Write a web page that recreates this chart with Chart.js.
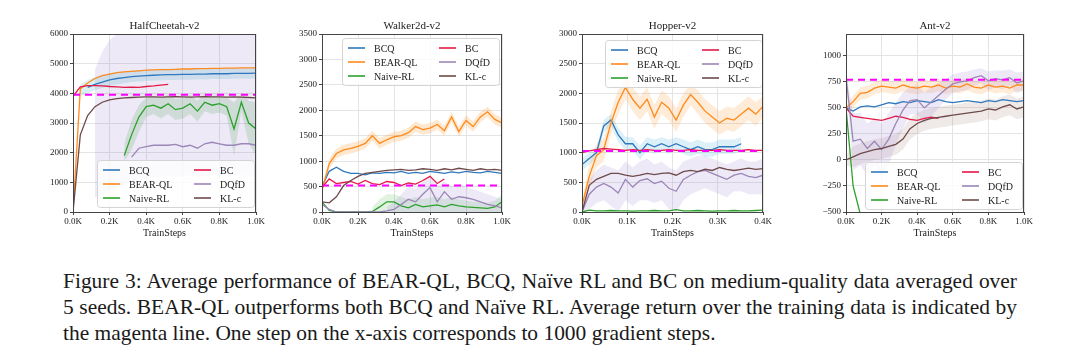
<!DOCTYPE html>
<html>
<head>
<meta charset="utf-8">
<title>Figure 3</title>
<script src="https://cdn.jsdelivr.net/npm/chart.js@4.4.1/dist/chart.umd.min.js"></script>
<style>
  body { margin: 0; width: 1080px; height: 355px; background: #fff; position: relative; overflow: hidden; }
  canvas { position: absolute; top: 0; }
  .caption { position: absolute; left: 63px; top: 268px; font-family: "Liberation Serif", "DejaVu Serif", "Noto Serif", serif; font-size: 22px; line-height: 26px; color: #1a1a1a; }
  .caption div { width: 954px; white-space: nowrap; }
  .caption .full { text-align: justify; text-align-last: justify; }
</style>
</head>
<body>
<canvas id="hc" width="270" height="245" style="left:0px"></canvas>
<canvas id="wk" width="270" height="245" style="left:270px"></canvas>
<canvas id="hp" width="260" height="245" style="left:540px"></canvas>
<canvas id="ant" width="280" height="245" style="left:800px"></canvas>
<div class="caption">
  <div class="full"><span>Figure 3: Average performance of BEAR-QL, BCQ, Naïve RL and BC on medium-quality data averaged over</span></div>
  <div class="full"><span>5 seeds. BEAR-QL outperforms both BCQ and Naïve RL. Average return over the training data is indicated by</span></div>
  <div><span>the magenta line. One step on the x-axis corresponds to 1000 gradient steps.</span></div>
</div>
<script>
// legend order follows matplotlib's column-first fill
const seriesNames = ['BCQ', 'BEAR-QL', 'Naive-RL', 'BC', 'DQfD', 'KL-c'];
const seriesColors = ['#2f78bd', '#ff8a1c', '#2ca02c', '#e31a47', '#9b86b8', '#6e4a4a'];
const serifFamily = '"Liberation Serif", "DejaVu Serif", "Noto Serif", serif';

// tick labels (values) for each panel
const xTicksLong = [0, 200, 400, 600, 800, 1000];
const xTicksHopper = [0, 100, 200, 300, 400];
const hcYTicks = [0, 1000, 2000, 3000, 4000, 5000, 6000];
const wkYTicks = [0, 500, 1000, 1500, 2000, 2500, 3000, 3500];
const hpYTicks = [0, 500, 1000, 1500, 2000, 2500, 3000];
const antYTicks = [-500, -250, 0, 250, 500, 750, 1000];

// HalfCheetah-v2 (x in train steps, every 40)
const hcSteps = [0, 40, 80, 120, 160, 200, 240, 280, 320, 360, 400, 440, 480, 520, 560, 600, 640, 680, 720, 760, 800, 840, 880, 920, 960, 1000];
const hcBCQ = [null, null, 4200, 4300, 4380, 4450, 4500, 4530, 4560, 4580, 4600, 4610, 4620, 4630, 4630, 4640, 4640, 4650, 4650, 4660, 4660, 4660, 4670, 4670, 4670, 4680];
const hcBEAR = [0, 4150, 4350, 4500, 4600, 4650, 4700, 4720, 4740, 4760, 4780, 4790, 4800, 4800, 4810, 4820, 4820, 4830, 4830, 4840, 4840, 4850, 4850, 4860, 4860, 4860];
const hcNaive = [null, null, null, null, null, null, null, 1900, 2600, 3200, 3550, 3600, 3500, 3650, 3450, 3500, 3650, 3400, 3700, 3600, 3650, 3550, 2800, 3700, 3000, 2800];
const hcBC = [3900, 4220, 4260, 4260, 4250, 4230, 4220, 4200, 4210, 4200, 4230, 4250, 4280, 4300, null, null, null, null, null, null, null, null, null, null, null, null];
const hcDQfD = [null, null, null, null, null, null, null, null, 1850, 2150, 2200, 2250, 2250, 2250, 2280, 2200, 2250, 2150, 2300, 2350, 2300, 2250, 2250, 2300, 2300, 2250];
const hcKLc = [0, 2600, 3250, 3550, 3700, 3780, 3820, 3850, 3860, 3870, 3880, 3880, 3870, 3880, 3890, 3880, 3870, 3880, 3890, 3880, 3880, 3870, 3880, 3870, 3860, 3850];
const hcAvgReturn = 3950;
const hcDQfDHigh = [null, null, null, 4800, 5400, 5800, 6000, 6000, 6000, 6000, 6000, 6000, 6000, 6000, 6000, 6000, 6000, 6000, 6000, 6000, 6000, 6000, 6000, 6000, 6000, 6000];
const hcDQfDLow = [null, null, null, 500, 600, 700, 800, 900, 1000, 1100, 1150, 1200, 1200, 1250, 1200, 1200, 1250, 1200, 1200, 1250, 1250, 1200, 1200, 1250, 1200, 1200];
const hcNaiveHigh = [null, null, null, null, null, null, null, 2300, 3100, 3600, 3850, 3900, 3850, 3950, 3800, 3850, 3950, 3750, 4000, 3900, 3950, 3850, 3700, 4000, 3750, 3700];
const hcNaiveLow = [null, null, null, null, null, null, null, 1700, 2100, 2700, 3200, 3300, 3150, 3300, 3100, 3150, 3300, 3050, 3400, 3300, 3350, 3250, 1900, 3400, 2300, 1900];
const hcBCQHigh = [null, 4300, 4450, 4550, 4620, 4680, 4720, 4740, 4760, 4780, 4790, 4800, 4800, 4810, 4810, 4820, 4820, 4830, 4830, 4840, 4840, 4840, 4850, 4850, 4850, 4860];
const hcBCQLow = [null, 3900, 4000, 4100, 4180, 4250, 4300, 4340, 4380, 4400, 4420, 4430, 4440, 4450, 4450, 4460, 4460, 4470, 4470, 4480, 4480, 4480, 4490, 4490, 4490, 4500];

// Walker2d-v2
const wkSteps = [0, 40, 80, 120, 160, 200, 240, 280, 320, 360, 400, 440, 480, 520, 560, 600, 640, 680, 720, 760, 800, 840, 880, 920, 960, 1000];
const wkBCQ = [500, 800, 880, 800, 760, 760, 730, 770, 760, 780, 770, 800, 760, 780, 760, 800, 780, 760, 790, 770, 800, 780, 770, 800, 780, 760];
const wkBEAR = [430, 950, 1150, 1220, 1250, 1290, 1350, 1500, 1350, 1420, 1480, 1500, 1560, 1680, 1620, 1650, 1720, 1600, 1870, 1580, 1800, 1680, 1870, 1970, 1820, 1750];
const wkNaive = [200, 30, 0, 0, 0, 0, 0, 10, 100, 200, 200, 120, 80, 150, 100, 120, 140, 100, 150, 120, 100, 90, 80, 70, 100, 200];
const wkBC = [480, 650, 560, 580, 600, 550, 620, 560, 540, 600, 580, 520, 570, 550, 620, 700, 560, 650, null, null, null, null, null, null, null, null];
const wkDQfD = [150, 50, 0, 0, 0, 0, 0, 0, 0, 20, 50, 150, 250, 200, 350, 480, 200, 400, 250, 300, 280, 250, 200, 150, 120, 80];
const wkKLc = [200, 180, 300, 520, 620, 700, 760, 780, 800, 820, 830, 840, 820, 830, 850, 840, 820, 850, 830, 860, 840, 820, 850, 830, 840, 820];
const wkAvgReturn = 520;
const wkBEARHigh = [500, 1050, 1250, 1320, 1350, 1390, 1450, 1600, 1450, 1520, 1580, 1600, 1660, 1780, 1720, 1750, 1820, 1700, 1970, 1680, 1900, 1780, 1970, 2070, 1920, 1850];
const wkBEARLow = [360, 850, 1050, 1120, 1150, 1190, 1250, 1400, 1250, 1320, 1380, 1400, 1460, 1580, 1520, 1550, 1620, 1500, 1770, 1480, 1700, 1580, 1770, 1870, 1720, 1650];
const wkDQfDHigh = [null, null, null, null, null, null, null, null, null, 100, 200, 350, 500, 450, 600, 700, 500, 600, 500, 550, 500, 450, 400, 350, 300, 250];
const wkDQfDLow = [null, null, null, null, null, null, null, null, null, 0, 0, 0, 0, 0, 0, 0, 0, 0, 0, 0, 0, 0, 0, 0, 0, 0];
const wkNaiveHigh = [null, null, null, null, null, null, null, 100, 250, 350, 350, 300, 250, 300, 250, 280, 300, 250, 300, 250, 220, 200, 200, 180, 220, 350];
const wkNaiveLow = [null, null, null, null, null, null, null, 0, 0, 0, 0, 0, 0, 0, 0, 0, 0, 0, 0, 0, 0, 0, 0, 0, 0, 0];

// Hopper-v2 (every 16 steps)
const hpSteps = [0, 16, 32, 48, 64, 80, 96, 112, 128, 144, 160, 176, 192, 208, 224, 240, 256, 272, 288, 304, 320, 336, 352, 368, 384, 400];
const hpBCQ = [800, 900, 1000, 1450, 1550, 1300, 1150, 1150, 1000, 1150, 1100, 1150, 1100, 1150, 1100, 1050, 1100, 1050, 1050, 1100, 1100, 1100, 1150, null, null, null];
const hpBEAR = [100, 600, 950, 1050, 1500, 1850, 2100, 1900, 1750, 1900, 1600, 1850, 1750, 1550, 1800, 1980, 1850, 1700, 1600, 1500, 1580, 1550, 1650, 1750, 1650, 1780];
const hpNaive = [0, 30, 20, 20, 25, 20, 20, 15, 20, 20, 25, 20, 20, 40, 20, 20, 25, 20, 15, 20, 20, 25, 20, 20, 25, 30];
const hpBC = [1000, 1030, 1050, 1070, 1060, 1050, 1040, 1050, 1040, 1050, 1040, 1040, 1050, 1040, 1040, 1050, 1040, 1040, 1040, 1050, 1040, 1040, 1040, 1050, 1040, 1040];
const hpDQfD = [0, 300, 420, 480, 420, 320, 550, 420, 530, 560, 480, 520, 400, 350, 550, 620, 680, 700, 650, 600, 550, 620, 650, 600, 580, 620];
const hpKLc = [0, 450, 550, 600, 650, 650, 620, 600, 620, 650, 630, 650, 660, 620, 680, 700, 680, 720, 700, 750, 720, 700, 720, 740, 720, 730];
const hpAvgReturn = 1030;
const hpDQfDHigh = [0, 550, 700, 800, 750, 700, 850, 750, 850, 900, 800, 850, 750, 700, 850, 900, 950, 950, 900, 850, 800, 850, 900, 850, 850, 900];
const hpDQfDLow = [0, 50, 150, 200, 100, 0, 200, 100, 200, 200, 150, 200, 50, 0, 200, 300, 350, 400, 350, 300, 250, 350, 350, 300, 300, 300];
const hpBEARHigh = [200, 800, 1150, 1250, 1700, 2050, 2250, 2100, 1950, 2100, 1800, 2050, 1950, 1750, 2000, 2150, 2050, 1900, 1800, 1700, 1780, 1750, 1850, 1950, 1850, 1950];
const hpBEARLow = [0, 400, 750, 850, 1300, 1650, 1900, 1700, 1550, 1700, 1400, 1650, 1550, 1350, 1600, 1800, 1650, 1500, 1400, 1300, 1380, 1350, 1450, 1550, 1450, 1600];
const hpBCQHigh = [900, 1000, 1100, 1550, 1650, 1420, 1270, 1260, 1120, 1260, 1220, 1260, 1220, 1260, 1220, 1170, 1220, 1170, 1170, 1220, 1220, 1220, 1260, null, null, null];
const hpBCQLow = [700, 800, 900, 1350, 1450, 1180, 1030, 1040, 880, 1040, 980, 1040, 980, 1040, 980, 930, 980, 930, 930, 980, 980, 980, 1040, null, null, null];

// Ant-v2
const antSteps = [0, 40, 80, 120, 160, 200, 240, 280, 320, 360, 400, 440, 480, 520, 560, 600, 640, 680, 720, 760, 800, 840, 880, 920, 960, 1000];
const antBCQ = [500, 470, 510, 520, 510, 530, 550, 540, 560, 550, 570, 560, 550, 580, 560, 550, 560, 570, 560, 550, 570, 560, 580, 570, 560, 570];
const antBEAR = [500, 560, 640, 650, 690, 710, 700, 690, 720, 700, 690, 710, 700, 720, 690, 710, 700, 730, 700, 690, 720, 700, 710, 690, 720, 720];
const antNaive = [500, -250, -520, -600, -650, -700, -700, -750, -750, -800, -800, -800, -800, -800, -800, -800, -800, -800, -800, -800, -800, -800, -800, -800, -800, -800];
const antBC = [500, 420, 410, 400, 390, 380, 400, 420, 410, 390, 380, 400, 410, 400, null, null, null, null, null, null, null, null, null, null, null, null];
const antDQfD = [800, 180, 200, 110, 180, 100, 200, 350, 480, 570, 580, 500, 560, 620, 680, 730, 750, 760, 790, 810, 760, 780, 770, 790, 740, 760];
const antKLc = [0, 30, 60, 80, 100, 110, 130, 150, 200, 300, 350, 380, 400, 410, 420, 430, 440, 450, 460, 470, 490, 480, 510, 530, 490, 510];
const antAvgReturn = 770;
const antDQfDHigh = [850, 450, 450, 350, 400, 350, 450, 550, 650, 700, 720, 650, 700, 740, 780, 820, 840, 850, 870, 880, 850, 860, 860, 870, 840, 850];
const antDQfDLow = [750, -100, -50, -150, -50, -150, -50, 150, 300, 440, 440, 350, 420, 500, 580, 640, 660, 670, 710, 740, 670, 700, 680, 710, 640, 670];
const antKLcHigh = [50, 130, 160, 180, 200, 210, 230, 250, 300, 400, 450, 480, 500, 510, 520, 530, 540, 550, 560, 570, 590, 580, 610, 630, 590, 610];
const antKLcLow = [-50, -70, -40, -20, 0, 10, 30, 50, 100, 200, 250, 280, 300, 310, 320, 330, 340, 350, 360, 370, 390, 380, 410, 430, 390, 410];
const antBEARHigh = [520, 620, 700, 710, 750, 770, 760, 750, 780, 760, 750, 770, 760, 780, 750, 770, 760, 790, 760, 750, 780, 760, 770, 750, 780, 780];
const antBEARLow = [480, 500, 580, 590, 630, 650, 640, 630, 660, 640, 630, 650, 640, 660, 630, 650, 640, 670, 640, 630, 660, 640, 650, 630, 660, 660];

function pts(steps, ys) {
    return steps.map((x, i) => ({ x: x, y: ys[i] }));
}

// plot frame, title and inset legend drawn like matplotlib
const figurePlugin = {
    id: 'figureDecor',
    afterDatasetsDraw(chart, args, opts) {
        const { ctx, chartArea } = chart;
        const x0 = chartArea.left + opts.legendX;
        const y0 = chartArea.top + opts.legendY;
        ctx.save();
        ctx.fillStyle = 'rgba(255,255,255,0.8)';
        ctx.strokeStyle = '#d4d4d4';
        ctx.lineWidth = 1;
        ctx.beginPath();
        ctx.roundRect(x0 + 0.5, y0 + 0.5, 157, 47, 3);
        ctx.fill();
        ctx.stroke();
        ctx.font = '10px ' + serifFamily;
        ctx.textBaseline = 'middle';
        ctx.fillStyle = '#222';
        seriesNames.forEach((name, i) => {
            const col = Math.floor(i / 3);
            const row = i % 3;
            const lx = x0 + (col === 0 ? 6 : 97);
            const ly = y0 + 10 + row * 14;
            ctx.strokeStyle = seriesColors[i];
            ctx.lineWidth = 1.6;
            ctx.beginPath();
            ctx.moveTo(lx, ly);
            ctx.lineTo(lx + 17, ly);
            ctx.stroke();
            ctx.fillText(name, lx + 26, ly + 1);
        });
        ctx.restore();
    },
    afterDraw(chart, args, opts) {
        const { ctx, chartArea } = chart;
        ctx.save();
        ctx.strokeStyle = '#444';
        ctx.lineWidth = 1;
        ctx.strokeRect(chartArea.left + 0.5, chartArea.top + 0.5, chartArea.width - 1, chartArea.height);
        ctx.font = '11px ' + serifFamily;
        ctx.fillStyle = '#222';
        ctx.textAlign = 'center';
        ctx.textBaseline = 'middle';
        ctx.fillText(opts.title, (chartArea.left + chartArea.right) / 2, 26);
        ctx.restore();
    }
};

function buildPanel(p) {
    const datasets = [];
    p.bands.forEach(b => {
        datasets.push({ data: pts(p.steps, b.low), borderWidth: 0, pointRadius: 0, fill: false, order: 10 });
        datasets.push({ data: pts(p.steps, b.high), borderWidth: 0, pointRadius: 0, fill: '-1', backgroundColor: b.color, order: 10 });
    });
    p.series.forEach((ys, i) => {
        datasets.push({
            label: seriesNames[i],
            data: pts(p.steps, ys),
            borderColor: seriesColors[i],
            borderWidth: 1.3,
            pointRadius: 0,
            fill: false,
            order: 5 - i
        });
    });
    datasets.push({
        data: [{ x: 0, y: p.avg }, { x: p.xMax, y: p.avg }],
        borderColor: '#ff00ff',
        borderWidth: 2,
        borderDash: [7, 5],
        pointRadius: 0,
        fill: false,
        order: -1
    });

    const tickFont = { family: serifFamily, size: 9 };
    return new Chart(document.getElementById(p.id), {
        type: 'line',
        data: { datasets: datasets },
        plugins: [figurePlugin],
        options: {
            responsive: false,
            animation: false,
            layout: { padding: { top: 34, right: p.padRight, left: 0, bottom: 0 } },
            plugins: {
                legend: { display: false },
                tooltip: { enabled: false },
                figureDecor: { title: p.title, legendX: p.legendX, legendY: p.legendY }
            },
            scales: {
                x: {
                    type: 'linear',
                    min: 0,
                    max: p.xMax,
                    afterFit: s => { s.height = 33; },
                    afterBuildTicks: s => { s.ticks = p.xTicks.map(v => ({ value: v })); },
                    border: { display: false },
                    grid: { color: '#e4e4e4', tickColor: '#444', tickLength: 3 },
                    ticks: {
                        padding: 1,
                        maxRotation: 0,
                        autoSkip: false,
                        color: '#222',
                        font: tickFont,
                        callback: v => (v / 1000).toFixed(1) + 'K'
                    },
                    title: { display: true, text: 'TrainSteps', color: '#222', font: { family: serifFamily, size: 10 }, padding: { top: 0, bottom: 6 } }
                },
                y: {
                    min: p.yMin,
                    max: p.yMax,
                    afterFit: s => { s.width = p.yWidth; },
                    afterBuildTicks: s => { s.ticks = p.yTicks.map(v => ({ value: v })); },
                    border: { display: false },
                    grid: { color: '#e4e4e4', tickColor: '#444', tickLength: 3 },
                    ticks: {
                        padding: 2,
                        autoSkip: false,
                        color: '#222',
                        font: tickFont,
                        callback: v => v < 0 ? '\u2212' + (-v) : String(v)
                    }
                }
            }
        }
    });
}

function fitCaption() {
    // shrink the caption font until the two justified lines fit the text block
    const caption = document.querySelector('.caption');
    const spans = caption.querySelectorAll('.full span');
    let size = 22;
    caption.style.fontSize = size + 'px';
    let widest = Math.max(...Array.from(spans).map(s => s.getBoundingClientRect().width));
    if (widest > 950) {
        size = size * 950 / widest;
        caption.style.fontSize = size.toFixed(2) + 'px';
    }
    caption.querySelectorAll('div').forEach(d => { d.style.whiteSpace = 'normal'; });
}

document.addEventListener('DOMContentLoaded', function() {
    fitCaption();
    const purple = 'rgba(150, 120, 205, 0.16)';
    buildPanel({
        id: 'hc', title: 'HalfCheetah-v2', steps: hcSteps,
        series: [hcBCQ, hcBEAR, hcNaive, hcBC, hcDQfD, hcKLc], avg: hcAvgReturn,
        yMin: 0, yMax: 6000, yTicks: hcYTicks, xMax: 1000, xTicks: xTicksLong,
        yWidth: 73, padRight: 14, legendX: 24, legendY: 126,
        bands: [
            { low: hcDQfDLow, high: hcDQfDHigh, color: purple },
            { low: hcNaiveLow, high: hcNaiveHigh, color: 'rgba(44, 160, 44, 0.18)' },
            { low: hcBCQLow, high: hcBCQHigh, color: 'rgba(60, 180, 190, 0.2)' }
        ]
    });
    buildPanel({
        id: 'wk', title: 'Walker2d-v2', steps: wkSteps,
        series: [wkBCQ, wkBEAR, wkNaive, wkBC, wkDQfD, wkKLc], avg: wkAvgReturn,
        yMin: 0, yMax: 3500, yTicks: wkYTicks, xMax: 1000, xTicks: xTicksLong,
        yWidth: 52, padRight: 38, legendX: 20, legendY: 4,
        bands: [
            { low: wkBEARLow, high: wkBEARHigh, color: 'rgba(255, 150, 40, 0.22)' },
            { low: wkDQfDLow, high: wkDQfDHigh, color: purple },
            { low: wkNaiveLow, high: wkNaiveHigh, color: 'rgba(44, 160, 44, 0.14)' }
        ]
    });
    buildPanel({
        id: 'hp', title: 'Hopper-v2', steps: hpSteps,
        series: [hpBCQ, hpBEAR, hpNaive, hpBC, hpDQfD, hpKLc], avg: hpAvgReturn,
        yMin: 0, yMax: 3000, yTicks: hpYTicks, xMax: 400, xTicks: xTicksHopper,
        yWidth: 42, padRight: 37, legendX: 23, legendY: 6,
        bands: [
            { low: hpDQfDLow, high: hpDQfDHigh, color: purple },
            { low: hpBEARLow, high: hpBEARHigh, color: 'rgba(255, 150, 40, 0.18)' },
            { low: hpBCQLow, high: hpBCQHigh, color: 'rgba(60, 170, 220, 0.18)' }
        ]
    });
    buildPanel({
        id: 'ant', title: 'Ant-v2', steps: antSteps,
        series: [antBCQ, antBEAR, antNaive, antBC, antDQfD, antKLc], avg: antAvgReturn,
        yMin: -500, yMax: 1210, yTicks: antYTicks, xMax: 1000, xTicks: xTicksLong,
        yWidth: 46, padRight: 56, legendX: 19, legendY: 128,
        bands: [
            { low: antDQfDLow, high: antDQfDHigh, color: purple },
            { low: antKLcLow, high: antKLcHigh, color: 'rgba(150, 110, 100, 0.15)' },
            { low: antBEARLow, high: antBEARHigh, color: 'rgba(255, 150, 40, 0.18)' }
        ]
    });
});
</script>
</body>
</html>
